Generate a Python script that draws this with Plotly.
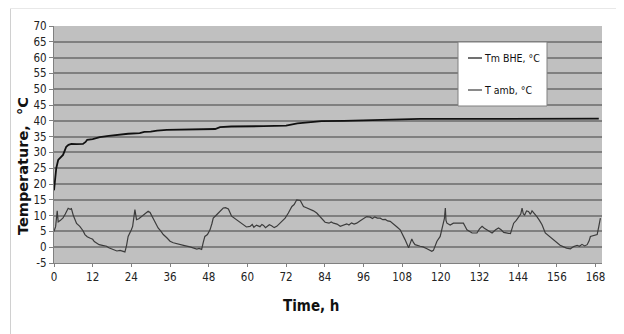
import plotly.graph_objects as go

# ---- data ----
bhe_t = [0, 0.3, 0.7, 1.3, 2, 2.8, 3.3, 3.8, 4.5, 5.4, 7, 9, 9.8, 10.3, 12, 14.2, 17, 19.4,
         23, 26.6, 28, 30, 32, 35, 40, 45.3, 50, 51.5, 55, 65, 72, 75.5, 79, 83, 90, 100,
         113.6, 130, 150, 169]
bhe_v = [18, 22, 25, 27.6, 28.5, 29.2, 30.5, 31.8, 32.4, 32.7, 32.6, 32.7, 33.3, 34.0, 34.2,
         34.8, 35.2, 35.5, 35.9, 36.1, 36.5, 36.6, 36.9, 37.1, 37.2, 37.3, 37.4, 38.0, 38.2,
         38.3, 38.5, 39.2, 39.5, 39.9, 40.0, 40.3, 40.6, 40.6, 40.7, 40.7]

amb_t = [0, 0.5, 1.0, 1.3, 2, 2.8, 3.5, 4.4, 5, 5.4, 6, 6.5, 7, 8, 8.5, 9, 9.6, 10.3, 11.1, 12,
         12.5, 13.2, 14, 15, 16.3, 17, 18.4, 19.5, 20.5, 21.5, 22, 22.5, 23, 24, 24.4, 25.1,
         25.6, 26.3, 27.2, 28.2, 29.2, 29.8, 30.8, 31.5, 32.3, 33.2, 33.9, 35, 36, 37, 38,
         39.1, 40.5, 42.2, 43.2, 44.3, 45, 45.8, 46.3, 46.8, 47.6, 48.4, 49, 49.4, 50, 51,
         52.5, 53.2, 54.1, 55.1, 56.7, 57.5, 58.7, 59.7, 60.8, 61.5, 62, 62.8, 63.9, 64.5, 65,
         65.6, 66, 66.8, 67.5, 68.3, 69.1, 70.1,
         71.7, 72.7, 73.8, 74.5, 75.3, 76.4, 77.4, 78.3, 79.4, 80.5, 81.5, 82.3, 83.1, 84.1,
         85.3, 86.0, 86.7, 87.8, 88.8, 89.8, 90.8, 91.5, 92.3, 93.1, 93.9, 95, 96, 97, 98.1,
         98.8, 99.5, 100.3, 101.2, 102.0, 102.8, 103.5,
         104.3, 105.8, 106.5, 107.4, 108.2, 108.9, 109.5, 110, 110.5, 111, 111.5, 112, 113.6,
         114.5, 115.7, 116.5, 117.2, 117.7, 118.8, 119.8, 120.6, 121.1, 121.4, 121.6, 121.9,
         122.9, 123.9, 125.5, 127, 127.6, 128.1, 129.7, 131.2, 132, 132.8, 133.5, 134.3,
         135.1, 135.9, 137, 137.9, 138.7, 139.5, 141.6, 142.6, 143.4, 144.1, 144.8, 145.2,
         145.6, 146, 146.6, 147.2, 147.8, 148.3, 148.8, 149.8, 150.6, 151.4, 152.4, 153.5,
         154.5, 155.3, 156.1, 157, 158.1, 159, 160.2, 161.2, 162.3, 163.0, 163.8, 164.6, 165.4,
         166, 166.4, 167.5, 168.5, 169, 169.5]
amb_v = [5.0, 6.5, 11.5, 8.0, 8.5, 9.3, 10.5, 12.3, 12.0, 12.2, 10.0, 8.7, 7.5, 6.6, 6.0, 5.2,
         4.0, 3.3, 2.9, 2.5, 1.8, 1.3, 0.8, 0.6, 0.3, -0.2, -0.8, -1.2, -1.0, -1.3, -1.5, 0.5,
         3.4, 5.5, 6.6, 11.9, 8.7, 9.0, 9.7, 10.5, 11.4, 11.0, 9.2, 7.5, 6.1, 5.0, 4.0, 3.0,
         1.9, 1.4, 1.1, 0.8, 0.5, 0.1, -0.3, -0.6, -0.4, -0.7, 1.5, 3.4, 4.0, 5.5, 7.5, 9.2,
         9.8, 10.8, 12.4, 12.5, 12.1, 9.8, 8.7, 8.0, 7.1, 6.4, 6.6, 7.2, 6.3, 7.0, 6.5, 7.2,
         6.9, 6.2, 6.5, 7.1, 6.8, 6.2, 6.6, 7.6,
         9.2, 10.8, 12.9, 13.5, 15.0, 14.8, 12.9, 12.5, 12.1, 11.5, 10.8, 10.0, 9.2, 7.9,
         7.6, 8.0, 7.6, 7.3, 6.6, 7.1, 7.4, 7.0, 7.7, 7.3, 7.6, 8.4, 9.2, 9.7, 9.5,
         9.1, 9.6, 9.2, 9.2, 8.7, 8.8, 8.3,
         8.2, 7.1, 6.3, 5.5, 4.0, 2.4, 1.0, -0.2, 1.2, 2.6, 1.5, 0.8, 0.3, 0.1, -0.5, -0.9,
         -1.3, -1.0, 1.9, 3.4, 6.6, 9.0, 12.4, 8.5, 7.6, 7.0, 7.6, 7.7, 7.6, 6.5, 5.5, 4.5,
         4.5, 5.8, 6.6, 6.0, 5.5, 4.8, 4.5, 5.5, 6.1, 5.5, 4.7, 4.3, 7.6, 8.5, 9.7, 10.5,
         12.4, 10.5, 10.2, 11.5, 11.3, 10.4, 11.5, 11.0, 9.7, 8.5, 7.1, 4.5, 3.5, 2.9, 2.0,
         1.3, 0.6, 0.1, -0.3, -0.5, 0.2, 0.6, 0.3, 0.9, 0.4, 0.8, 2.0, 3.4, 3.6, 4.0, 6.5, 9.2]

x_ticks = list(range(0, 169, 12))
y_ticks = list(range(-5, 71, 5))
series_names = ["Tm BHE, °C", "T amb, °C"]
series_colors = ["#111111", "#3c3c3c"]

NARROW = "DejaVu Sans Condensed, Liberation Sans Narrow, sans-serif"
BOLD = "DejaVu Sans, Liberation Sans, sans-serif"

OFF = 8  # page body margin
W, H = 624 - OFF, 334 - OFF
# plot area in page pixels
PL, PR, PT, PB = 54, 602, 26, 263
L, R, T, B = PL - OFF, PR - OFF, PT - OFF, PB - OFF

fig = go.Figure()
fig.add_trace(go.Scatter(x=bhe_t, y=bhe_v, mode="lines", name=series_names[0],
                         line=dict(color=series_colors[0], width=1.8), showlegend=False))
fig.add_trace(go.Scatter(x=amb_t, y=amb_v, mode="lines", name=series_names[1],
                         line=dict(color=series_colors[1], width=1.2), showlegend=False))

def px(xp):
    return (xp - PL) / (PR - PL)

def py(yp):
    return (PB - yp) / (PB - PT)

shapes = [
    dict(type="line", xref="paper", yref="paper", x0=px(10.5), x1=px(10.5), y0=py(8.5), y1=py(340),
         line=dict(color="#d0d0d0", width=1)),
    dict(type="line", xref="paper", yref="paper", x0=px(10.5), x1=px(622), y0=py(8.5), y1=py(8.5),
         line=dict(color="#e8e8e8", width=1)),
    dict(type="line", xref="paper", yref="paper", x0=px(622), x1=px(622), y0=py(8.5), y1=py(340),
         line=dict(color="#a8a8a8", width=1.5)),
    # legend box
    dict(type="rect", xref="paper", yref="paper", x0=px(458), x1=px(547), y0=py(106), y1=py(42),
         fillcolor="white", line=dict(color="#808080", width=1)),
]
annotations = []
for i, (nm, col) in enumerate(zip(series_names, series_colors)):
    yy = 58 + 32 * i
    shapes.append(dict(type="line", xref="paper", yref="paper", x0=px(468), x1=px(482),
                       y0=py(yy), y1=py(yy), line=dict(color=col, width=1.2)))
    annotations.append(dict(xref="paper", yref="paper", x=px(482), y=py(yy), text=nm,
                            showarrow=False, xanchor="left", yanchor="middle",
                            font=dict(family=NARROW, size=10.5, color="#111111")))

annotations.append(dict(xref="paper", yref="paper", x=px(23), y=py(166),
                        text="<b>Temperature,  °C</b>", textangle=-90, showarrow=False,
                        xanchor="center", yanchor="middle",
                        font=dict(family=BOLD, size=14.5, color="#111111")))
annotations.append(dict(xref="paper", yref="paper", x=px(311), y=py(306),
                        text="<b>Time, h</b>", showarrow=False,
                        xanchor="center", yanchor="middle",
                        font=dict(family=NARROW, size=15, color="#111111")))

fig.update_layout(
    width=W, height=H,
    margin=dict(l=L, r=W - R, t=T, b=H - B),
    paper_bgcolor="white",
    plot_bgcolor="#c0c0c0",
    shapes=shapes,
    annotations=annotations,
    showlegend=False,
    xaxis=dict(range=[0, 170], tickvals=x_ticks, ticktext=[str(v) for v in x_ticks],
               showgrid=False, zeroline=False, showline=True, linecolor="#808080",
               ticks="outside", ticklen=3, tickcolor="#808080", automargin=False,
               tickfont=dict(family=NARROW, size=11.5, color="#222222")),
    yaxis=dict(range=[-5, 70], tickvals=y_ticks, ticktext=[str(v) for v in y_ticks],
               showgrid=True, gridcolor="#808080", gridwidth=1.5, zeroline=False,
               showline=True, linecolor="#808080", automargin=False,
               ticks="outside", ticklen=4, tickcolor="#808080",
               tickfont=dict(family=NARROW, size=11.5, color="#222222")),
)

fig.write_html("out.html")
